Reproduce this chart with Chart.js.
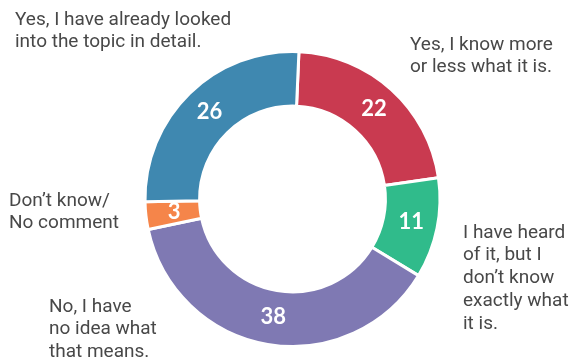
<!DOCTYPE html>
<html>
<head>
<meta charset="utf-8">
<script src="https://cdn.jsdelivr.net/npm/chart.js@4"></script>
<style>
  html, body { margin: 0; padding: 0; background: #fff; }
  #wrap { width: 574px; height: 363px; position: relative; }
</style>
</head>
<body>
<div id="wrap"><canvas id="myChart"></canvas></div>
<script>
const categories = [
  "Yes, I know more or less what it is.",
  "I have heard of it, but I don\u2019t know exactly what it is.",
  "No, I have no idea what that means.",
  "Don\u2019t know/ No comment",
  "Yes, I have already looked into the topic in detail."
];
const values = [22, 11, 38, 3, 26];
const colors = ["#c93a50", "#30bb8b", "#7f79b3", "#f5854a", "#3f88b0"];

// wrapped label lines, drawn beside the ring
const labelLines = [
  ["Yes, I know more", "or less what it is."],
  ["I have heard", "of it, but I", "don\u2019t know", "exactly what", "it is."],
  ["No, I have", "no idea what", "that means."],
  ["Don\u2019t know/", "No comment"],
  ["Yes, I have already looked", "into the topic in detail."]
];
const labelSpots = [
  { x: 410, y: 45 },
  { x: 463, y: 233 },
  { x: 49, y: 307 },
  { x: 9, y: 201 },
  { x: 15, y: 20 }
];

const sideLabels = {
  id: "sideLabels",
  afterDatasetsDraw(chart) {
    const ctx = chart.ctx;
    const meta = chart.getDatasetMeta(0);
    ctx.save();
    // values on the arcs
    ctx.fillStyle = "#fff";
    ctx.font = "bold 22px Lato";
    ctx.textAlign = "center";
    ctx.textBaseline = "middle";
    meta.data.forEach((arc, i) => {
      const p = arc.tooltipPosition();
      ctx.fillText(values[i], p.x + 1, p.y - 1);
    });
    // category texts
    ctx.fillStyle = "#484848";
    ctx.font = "19px Roboto";
    ctx.textAlign = "left";
    labelLines.forEach((lines, i) => {
      lines.forEach((line, j) => {
        ctx.fillText(line, labelSpots[i].x, labelSpots[i].y + j * 22.7);
      });
    });
    ctx.restore();
  }
};

new Chart(document.getElementById("myChart"), {
  type: "doughnut",
  data: {
    labels: categories,
    datasets: [{
      data: values,
      backgroundColor: colors,
      borderColor: "#fff",
      borderWidth: 3
    }]
  },
  options: {
    responsive: true,
    maintainAspectRatio: false,
    animation: false,
    rotation: 2.5,
    cutout: "63%",
    layout: { padding: { top: 50, bottom: 15, left: 11, right: 0 } },
    plugins: {
      legend: { display: false },
      tooltip: { enabled: false }
    }
  },
  plugins: [sideLabels]
});
</script>
</body>
</html>
